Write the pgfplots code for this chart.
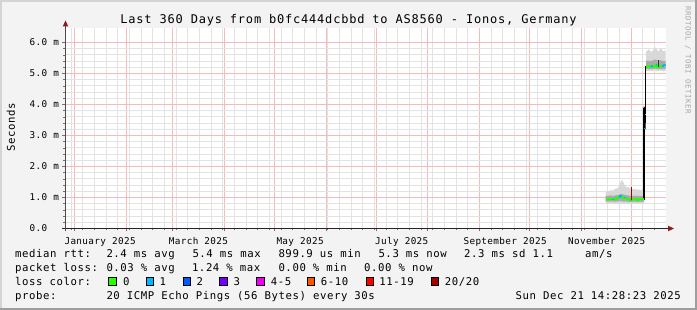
\documentclass[border=0pt]{standalone}
\usepackage{pgfplots}
\pgfplotsset{compat=1.18}
\usepackage{pgfplotstable}
\usepackage{fontspec}
\setmainfont{DejaVu Sans Mono}
\newfontfamily\lgfont[LetterSpace=5.4]{DejaVu Sans Mono}
\newfontfamily\tkfont[LetterSpace=4.0]{DejaVu Sans Mono}
\newfontfamily\ttlfont[LetterSpace=6.5]{DejaVu Sans Mono}
\newfontfamily\wmfont[LetterSpace=8.0]{DejaVu Sans Mono}
\newcommand\LG{\lgfont\fontsize{10.67}{12}\selectfont\fontdimen2\font=7pt\relax\fontdimen3\font=0pt\relax\fontdimen4\font=0pt\relax\frenchspacing}
\newcommand\TK{\tkfont\fontsize{9.33}{11}\selectfont\fontdimen2\font=6pt\relax\fontdimen3\font=0pt\relax\fontdimen4\font=0pt\relax\frenchspacing}
\newcommand\TT{\ttlfont\fontsize{12}{14}\selectfont\fontdimen2\font=8pt\relax\fontdimen3\font=0pt\relax\fontdimen4\font=0pt\relax\frenchspacing}
\newcommand\WM{\wmfont\fontsize{7.33}{9}\selectfont\fontdimen2\font=5pt\relax\fontdimen3\font=0pt\relax\fontdimen4\font=0pt\relax\frenchspacing}

\definecolor{bgc}{HTML}{F3F3F3}
\definecolor{shadeA}{HTML}{D4D4D4}
\definecolor{shadeB}{HTML}{9E9E9E}
\definecolor{mgrid}{HTML}{F6BABA}
\definecolor{gridc}{HTML}{E3E3E3}
\definecolor{arrowc}{HTML}{8E1B1B}
\definecolor{l0}{HTML}{26FF00}
\definecolor{l1}{HTML}{00B8FF}
\definecolor{l2}{HTML}{0059FF}
\definecolor{l3}{HTML}{7000FF}
\definecolor{l45}{HTML}{F000F0}
\definecolor{l610}{HTML}{FF5500}
\definecolor{l1119}{HTML}{FF0000}
\definecolor{l20}{HTML}{A10000}
\definecolor{smokeA}{HTML}{D8D8D8}
\definecolor{smokeB}{HTML}{AAAAAA}

% days since 1 Jan 2025; median rtt in ms
\pgfplotstableread{
x     med
318.7 0.95
319.5 0.94
320.3 0.95
321.1 0.96
321.9 0.97
322.7 0.94
323.5 0.95
324.3 0.96
325.1 0.98
325.9 1.00
326.7 1.02
327.5 1.04
328.3 1.00
329.1 0.97
329.9 1.00
330.7 0.97
331.5 0.95
332.3 0.96
333.1 0.93
333.9 0.92
334.7 0.94
335.5 0.95
336.3 0.94
337.1 0.95
337.9 0.93
338.7 0.94
339.5 0.95
340.3 0.94
341.1 0.95
341.7 0.95
}\lowT

\pgfplotstableread{
x     med
342.9 5.22
343.8 5.24
344.6 5.22
345.4 5.23
346.2 5.25
347.0 5.22
347.8 5.24
348.6 5.28
349.4 5.22
350.2 5.21
351.0 5.24
351.8 5.26
352.6 5.25
353.4 5.28
354.2 5.27
354.6 5.27
}\highT

\begin{document}
\begin{tikzpicture}[x=1pt,y=1pt]
\fill[bgc] (0,0) rectangle (697,310);
\fill[shadeA] (0,0) rectangle (2,310);
\fill[shadeA] (0,308) rectangle (697,310);
\fill[shadeB] (0,0) rectangle (697,2);
\fill[shadeB] (695,0) rectangle (697,310);
\fill[white] (65.5,81.5) rectangle (665.5,281.5);

\begin{axis}[
  at={(65.5pt,81.5pt)}, anchor=south west,
  scale only axis, width=600pt, height=200pt,
  xmin=-5.4, xmax=354.6, ymin=0, ymax=6.4516,
  axis line style={draw=none},
  tick align=outside,
  xtick pos=bottom, ytick pos=left,
  xtick={0,31,59,90,120,151,181,212,243,273,304,334},
  xticklabels={January 2025,,March 2025,,May 2025,,July 2025,,September 2025,,November 2025,},
  minor xtick={-2,5,...,348},
  ytick={0,1,2,3,4,5,6},
  yticklabels={0.0,1.0 m,2.0 m,3.0 m,4.0 m,5.0 m,6.0 m},
  minor y tick num=4,
  grid=both,
  major grid style={mgrid, line width=1pt},
  minor grid style={gridc, line width=1pt},
  major tick length=3pt, minor tick length=2pt,
  tick style={black!55, line width=0.7pt},
  yticklabel style={anchor=west, inner sep=0pt, xshift=-33pt, font=\TK},
  xticklabel style={anchor=base, inner sep=0pt, yshift=-12.6pt, xshift=25.6pt, font=\TK},
]
% smoke, low level: max (forward) then min (backward)
\addplot[fill=smokeA, draw=none] coordinates {
(318.7,1.18)(319.5,1.20)(320.3,1.22)(321.1,1.19)(321.9,1.25)(322.7,1.21)(323.5,1.24)(324.3,1.27)(325.1,1.30)(325.9,1.28)(326.7,1.38)(327.5,1.47)(328.3,1.56)(329.1,1.52)(329.9,1.42)(330.7,1.36)(331.5,1.32)(332.3,1.34)(333.1,1.30)(333.9,1.28)(334.7,1.26)(335.5,1.29)(336.3,1.25)(337.1,1.27)(337.9,1.24)(338.7,1.26)(339.5,1.23)(340.3,1.25)(341.1,1.24)(341.7,1.24)
(341.7,0.80)(341.1,0.80)(340.3,0.80)(339.5,0.80)(338.7,0.80)(337.9,0.80)(337.1,0.80)(336.3,0.80)(335.5,0.80)(334.7,0.80)(333.9,0.79)(333.1,0.79)(332.3,0.79)(331.5,0.80)(330.7,0.80)(329.9,0.80)(329.1,0.80)(328.3,0.80)(327.5,0.80)(326.7,0.81)(325.9,0.80)(325.1,0.80)(324.3,0.80)(323.5,0.80)(322.7,0.81)(321.9,0.80)(321.1,0.81)(320.3,0.80)(319.5,0.80)(318.7,0.80)};
\addplot[fill=smokeB, draw=none] coordinates {
(318.7,1.04)(319.5,1.05)(320.3,1.05)(321.1,1.06)(321.9,1.07)(322.7,1.04)(323.5,1.06)(324.3,1.06)(325.1,1.08)(325.9,1.07)(326.7,1.09)(327.5,1.12)(328.3,1.11)(329.1,1.10)(329.9,1.09)(330.7,1.08)(331.5,1.07)(332.3,1.07)(333.1,1.06)(333.9,1.06)(334.7,1.05)(335.5,1.06)(336.3,1.05)(337.1,1.06)(337.9,1.05)(338.7,1.05)(339.5,1.05)(340.3,1.05)(341.1,1.05)(341.7,1.05)
(341.7,0.87)(341.1,0.87)(340.3,0.86)(339.5,0.87)(338.7,0.87)(337.9,0.86)(337.1,0.86)(336.3,0.87)(335.5,0.87)(334.7,0.86)(333.9,0.86)(333.1,0.86)(332.3,0.86)(331.5,0.87)(330.7,0.88)(329.9,0.87)(329.1,0.87)(328.3,0.88)(327.5,0.89)(326.7,0.88)(325.9,0.87)(325.1,0.88)(324.3,0.86)(323.5,0.87)(322.7,0.88)(321.9,0.87)(321.1,0.88)(320.3,0.87)(319.5,0.87)(318.7,0.88)};
% smoke, high level
\addplot[fill=smokeA, draw=none] coordinates {
(342.9,5.70)(343.8,5.74)(344.6,5.78)(345.4,5.72)(346.2,5.70)(347.0,5.74)(347.8,5.80)(348.6,5.84)(349.4,5.78)(350.2,5.70)(351.0,5.76)(351.8,5.82)(352.6,5.75)(353.4,5.72)(354.2,5.74)(354.6,5.74)
(354.6,5.08)(354.2,5.08)(353.4,5.08)(352.6,5.08)(351.8,5.09)(351.0,5.09)(350.2,5.08)(349.4,5.08)(348.6,5.09)(347.8,5.09)(347.0,5.09)(346.2,5.08)(345.4,5.09)(344.6,5.08)(343.8,5.08)(342.9,5.08)};
\addplot[fill=smokeB, draw=none] coordinates {
(342.9,5.40)(343.8,5.42)(344.6,5.41)(345.4,5.41)(346.2,5.40)(347.0,5.42)(347.8,5.45)(348.6,5.45)(349.4,5.44)(350.2,5.40)(351.0,5.42)(351.8,5.43)(352.6,5.40)(353.4,5.41)(354.2,5.40)(354.6,5.40)
(354.6,5.14)(354.2,5.14)(353.4,5.15)(352.6,5.14)(351.8,5.15)(351.0,5.15)(350.2,5.14)(349.4,5.15)(348.6,5.16)(347.8,5.15)(347.0,5.15)(346.2,5.14)(345.4,5.15)(344.6,5.14)(343.8,5.15)(342.9,5.15)};
% transition
\addplot[black, line width=1.3pt] coordinates {(341.7,0.93) (341.7,3.9)};
\addplot[fill=black, draw=none] coordinates {(341.1,3.28) (341.1,3.75) (341.6,3.95) (342.3,3.9) (342.7,3.6) (342.7,3.22) (341.8,3.18)};
\addplot[black, line width=1.2pt] coordinates {(342.8,3.4) (342.8,5.24)};
\addplot[l1, line width=1.4pt] coordinates {(341.9,3.22) (342.5,3.22)};
\addplot[l0, line width=1.4pt] coordinates {(342.1,3.68) (342.6,3.68)};
% median lines (colour = packet loss)
\addplot[l0, line width=1.7pt, const plot] table[x=x,y=med]{\lowT};
\addplot[l0, line width=1.7pt, const plot] table[x=x,y=med]{\highT};
\addplot[l1, line width=1.7pt, const plot] coordinates {(322.7,0.94) (323.5,0.94)};
\addplot[l1, line width=1.7pt, const plot] coordinates {(326.7,1.02) (327.5,1.04) (328.3,1.04)};
\addplot[l1, line width=1.7pt, const plot] coordinates {(329.9,1.00) (330.7,1.00)};
\addplot[l1, line width=1.7pt, const plot] coordinates {(333.9,0.92) (334.7,0.92)};
\addplot[l1, line width=1.7pt, const plot] coordinates {(345.4,5.23) (346.2,5.25) (347.0,5.25)};
\addplot[l1, line width=1.7pt, const plot] coordinates {(348.6,5.28) (349.4,5.28)};
\addplot[l1, line width=1.7pt, const plot] coordinates {(352.6,5.25) (353.4,5.28) (354.6,5.28)};
\addplot[l20, line width=0.9pt] coordinates {(334.0,0.93) (334.0,1.35)};
\addplot[black!80, line width=0.9pt] coordinates {(350.3,5.21) (350.3,5.45)};
\end{axis}

% axis lines with arrows
\draw[black!85, line width=0.8pt] (62,81.5) -- (669,81.5);
\fill[arrowc] (668,78.7) -- (674,81.5) -- (668,84.3) -- cycle;
\draw[black!70, line width=0.8pt] (65.5,78.5) -- (65.5,284.5);
\fill[arrowc] (62.7,283.5) -- (65.5,289.5) -- (68.3,283.5) -- cycle;

% title and labels
\node[anchor=base, inner sep=0pt] at (348.5,286) {\TT Last 360 Days from b0fc444dcbbd to AS8560 - Ionos, Germany};
\node[rotate=90, inner sep=0pt] at (11,182.5) {\LG Seconds};
\node[rotate=-90, inner sep=0pt, text=black!35] at (688,250) {\WM RRDTOOL / TOBI OETIKER};

% legend
\node[anchor=base west, inner sep=0pt] at (15,52.7) {\LG median rtt:};
\node[anchor=base west, inner sep=0pt] at (106.3,52.7) {\LG 2.4 ms avg};
\node[anchor=base west, inner sep=0pt] at (192.3,52.7) {\LG 5.4 ms max};
\node[anchor=base west, inner sep=0pt] at (278.3,52.7) {\LG 899.9 us min};
\node[anchor=base west, inner sep=0pt] at (378.3,52.7) {\LG 5.3 ms now};
\node[anchor=base west, inner sep=0pt] at (464,52.7) {\LG 2.3 ms sd};
\node[anchor=base west, inner sep=0pt] at (532.5,52.7) {\LG 1.1};
\node[anchor=base west, inner sep=0pt] at (585,52.7) {\LG am/s};

\node[anchor=base west, inner sep=0pt] at (15,38.7) {\LG packet loss:};
\node[anchor=base west, inner sep=0pt] at (106.3,38.7) {\LG 0.03 \% avg};
\node[anchor=base west, inner sep=0pt] at (191.8,38.7) {\LG 1.24 \% max};
\node[anchor=base west, inner sep=0pt] at (278.3,38.7) {\LG 0.00 \% min};
\node[anchor=base west, inner sep=0pt] at (364,38.7) {\LG 0.00 \% now};

\node[anchor=base west, inner sep=0pt] at (15,24.8) {\LG loss color:};
\foreach \bx/\col in {108.7/l0,146.1/l1,183.1/l2,219.7/l3,256.7/l45,307.1/l610,366.1/l1119,431.1/l20}{
  \filldraw[fill=\col, draw=black, line width=0.8pt] (\bx,24.4) rectangle ++(7.6,7.8);
}
\node[anchor=base west, inner sep=0pt] at (123,24.8) {\LG 0};
\node[anchor=base west, inner sep=0pt] at (159.5,24.8) {\LG 1};
\node[anchor=base west, inner sep=0pt] at (196.3,24.8) {\LG 2};
\node[anchor=base west, inner sep=0pt] at (233.3,24.8) {\LG 3};
\node[anchor=base west, inner sep=0pt] at (270.7,24.8) {\LG 4-5};
\node[anchor=base west, inner sep=0pt] at (320.7,24.8) {\LG 6-10};
\node[anchor=base west, inner sep=0pt] at (379.2,24.8) {\LG 11-19};
\node[anchor=base west, inner sep=0pt] at (444.7,24.8) {\LG 20/20};

\node[anchor=base west, inner sep=0pt] at (15,10.8) {\LG probe:};
\node[anchor=base west, inner sep=0pt] at (106.3,10.8) {\LG 20 ICMP Echo Pings (56 Bytes) every 30s};
\node[anchor=base east, inner sep=0pt] at (681,10.8) {\LG Sun Dec 21 14:28:23 2025};

\pgfresetboundingbox
\useasboundingbox (0,0) rectangle (697,310);
\end{tikzpicture}
\end{document}
